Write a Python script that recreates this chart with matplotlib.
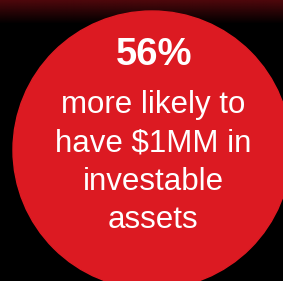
import matplotlib
matplotlib.use("Agg")
import matplotlib.pyplot as plt
from matplotlib.patches import Circle
import numpy as np

# Data
stat_value = 56
stat_suffix = "%"
caption_lines = ["more likely to", "have $1MM in", "investable", "assets"]

W, H = 283, 281
fig = plt.figure(figsize=(W / 100, H / 100), dpi=100)
fig.patch.set_facecolor("black")
ax = fig.add_axes([0, 0, 1, 1])
ax.set_xlim(0, W)
ax.set_ylim(H, 0)
ax.axis("off")
ax.set_facecolor("black")

# top dark-red gradient
grad_h = 24
g = np.linspace(1, 0, 64)
top = np.array([78, 8, 12]) / 255.0
img = np.zeros((64, 2, 4))
img[..., :3] = top
img[..., 3] = g[:, None]
ax.add_patch(plt.Rectangle((0, 0), W, H, color="black", zorder=0))
ax.imshow(img, extent=(0, W, grad_h, 0), aspect="auto", zorder=1, interpolation="bilinear")

circle = Circle((152, 150), 139, color="#DC1A22", zorder=2)
ax.add_patch(circle)

font = "Liberation Sans"
ax.text(154.5, 65, f"{stat_value}{stat_suffix}", color="white", fontsize=27.5, fontweight="bold",
        family=font, ha="center", va="baseline", zorder=3)

baselines = [113, 151, 190, 228]
for line, yb in zip(caption_lines, baselines):
    ax.text(153, yb, line, color="white", fontsize=22.5, family=font,
            ha="center", va="baseline", zorder=3)

fig.savefig("out.png", dpi=100, facecolor="black")
